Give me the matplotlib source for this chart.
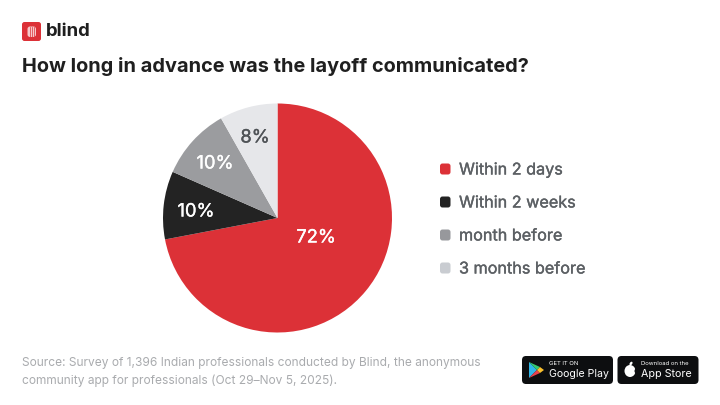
import matplotlib
matplotlib.use("Agg")
import matplotlib.pyplot as plt
import matplotlib.patheffects as pe
from matplotlib.patches import FancyBboxPatch, Polygon, Ellipse

plt.rcParams["font.family"] = ["Inter", "DejaVu Sans"]

categories = ["Within 2 days", "Within 2 weeks", "month before", "3 months before"]
values = [72, 9.6, 10.2, 8.2]
labels = ["72%", "10%", "10%", "8%"]
colors = ["#dc3137", "#232323", "#9b9c9f", "#e6e7ea"]
legend_colors = ["#dc3137", "#232323", "#97989c", "#c9ccd1"]
label_colors = ["white", "white", "white", "#4f5357"]
title = "How long in advance was the layoff communicated?"
source = ["Source: Survey of 1,396 Indian professionals conducted by Blind, the anonymous",
          "community app for professionals (Oct 29\u2013Nov 5, 2025)."]

W, H = 720, 405
fig = plt.figure(figsize=(7.2, 4.05), dpi=100, facecolor="white")

# overlay in pixel coords, y down
bg = fig.add_axes([0, 0, 1, 1])
bg.set_xlim(0, W)
bg.set_ylim(H, 0)
bg.axis("off")

def box(x, y, w, h, r, color, z=2):
    bg.add_patch(FancyBboxPatch((x + r, y + r), w - 2 * r, h - 2 * r,
                                boxstyle="round,pad=%g,rounding_size=%g" % (r, r),
                                fc=color, ec="none", zorder=z))

# inter has no usable medium weight here, thicken a bit with a stroke
def medium(color, lw=0.25):
    return [pe.withStroke(linewidth=lw, foreground=color)]

# logo
box(22, 22, 19, 19, 2.5, "#dc3137")
box(27.5, 26.5, 8.5, 10.5, 2.5, "#f6c9cb", 3)
for lx in [29.5, 31.5, 33.5]:
    bg.plot([lx, lx], [26.5, 37], color="#dc3137", lw=0.5, zorder=4)
bg.text(46, 32, "blind", fontsize=13.3, fontweight="bold", color="#1f1f1f",
        va="center", ha="left")

bg.text(22, 67, title, fontsize=14.35, fontweight="bold", color="#1f1f1f",
        va="center", ha="left")

# pie
cx, cy, r = 277.5, 218, 114.5
ax = fig.add_axes([(cx - r) / W, 1 - (cy + r) / H, 2 * r / W, 2 * r / H])
wedges, _ = ax.pie(values, colors=colors, startangle=90, counterclock=False, radius=1,
                   wedgeprops={"linewidth": 0})
ax.set_xlim(-1, 1)
ax.set_ylim(-1, 1)
label_pos = [(316, 238), (196, 212), (215, 164), (255, 138)]
for (lx, ly), txt, c in zip(label_pos, labels, label_colors):
    bg.text(lx, ly, txt, fontsize=13.2, color=c, ha="center", va="center", zorder=10,
            path_effects=medium(c, 0.25))
bg.set_zorder(5)
bg.patch.set_alpha(0)

# legend
legend_y = [169, 202, 235, 268]
for y, name, c in zip(legend_y, categories, legend_colors):
    box(440, y - 5.5, 10.5, 11, 2.5, c)
    bg.text(459, y + 1, name, fontsize=11.65, color="#5c6064", va="center", ha="left",
            path_effects=medium("#5c6064"))

# source
for y, line in zip([363, 381], source):
    bg.text(22, y, line, fontsize=8.6, color="#a9abae", va="center", ha="left")

# store badges
box(522, 356, 91, 28, 4, "#0d0e10")
box(617.5, 356, 81, 28, 4, "#0d0e10")
bg.add_patch(Polygon([(529, 362), (529, 378), (537, 370)], fc="#2fb6e8", ec="none", zorder=3))
bg.add_patch(Polygon([(529, 362), (537, 370), (540, 367)], fc="#35c96f", ec="none", zorder=3))
bg.add_patch(Polygon([(529, 378), (537, 370), (540, 373)], fc="#e8404a", ec="none", zorder=3))
bg.add_patch(Polygon([(540, 367), (537, 370), (540, 373), (544, 370)], fc="#fbc02d", ec="none", zorder=3))
bg.text(549, 363.5, "GET IT ON", fontsize=4.3, color="white", va="center", ha="left", zorder=3)
bg.text(549, 374, "Google Play", fontsize=7.6, color="white", va="center", ha="left", zorder=3)
bg.add_patch(Ellipse((630, 371), 11, 12, fc="white", ec="none", zorder=3))
bg.add_patch(Ellipse((636.5, 371), 4, 5, fc="#0d0e10", ec="none", zorder=3))
bg.add_patch(Ellipse((631, 363.5), 2.5, 4, angle=35, fc="white", ec="none", zorder=3))
bg.text(641, 363.5, "Download on the", fontsize=4.3, color="white", va="center", ha="left", zorder=3)
bg.text(641, 374, "App Store", fontsize=7.7, color="white", va="center", ha="left", zorder=3)

fig.savefig("out.png", dpi=100, facecolor="white")
